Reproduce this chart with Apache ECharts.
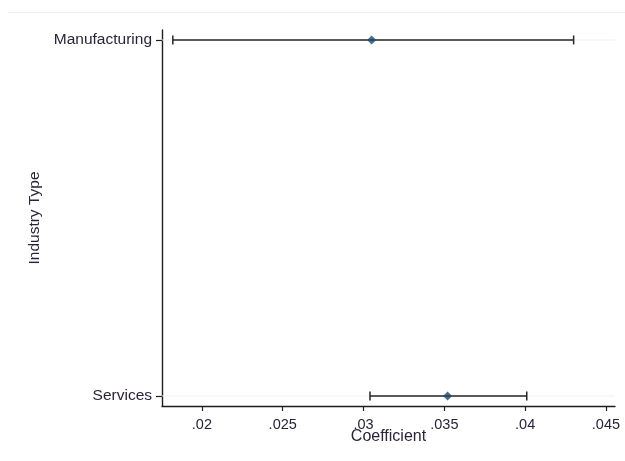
<!DOCTYPE html>
<html><head><meta charset="utf-8">
<script src="https://cdn.jsdelivr.net/npm/echarts@6/dist/echarts.min.js"></script>
<style>html,body{margin:0;padding:0;background:#fff}#c{width:625px;height:461px}</style>
</head><body><div id="c"></div>
<script>
var categories = ['Services', 'Manufacturing'];
var coef = [0.0352, 0.0305];
var ciLow = [0.0304, 0.0182];
var ciHigh = [0.0401, 0.0430];
var xTicks = [0.02, 0.025, 0.03, 0.035, 0.04, 0.045];
var xTitle = 'Coefficient';

var chart = echarts.init(document.getElementById('c'));
var font = 'Liberation Sans, Arial, sans-serif';
var txt = '#2a2438';
var ciData = categories.map(function (c, i) { return [ciLow[i], ciHigh[i], i]; });
var ptData = categories.map(function (c, i) { return [coef[i], i]; });

chart.setOption({
  animation: false,
  graphic: [
    {type: 'line', shape: {x1: 8, y1: 12.5, x2: 625, y2: 12.5}, style: {stroke: '#e6eff1', lineWidth: 1}, silent: true},
    {type: 'text', x: 388.5, y: 437, silent: true, z: 10,
      style: {text: xTitle, fill: txt, font: '16px ' + font, align: 'center', verticalAlign: 'middle'}}
  ],
  grid: {left: 162, right: 10, top: 30, bottom: 55},
  xAxis: {
    type: 'value', min: 0.01753, max: 0.04556,
    axisLine: {show: true, onZero: false, lineStyle: {color: '#1e1e1e', width: 1.4}},
    axisTick: {show: true, length: 5, lineStyle: {color: '#1e1e1e', width: 1.2}, customValues: xTicks},
    axisLabel: {color: txt, fontFamily: font, fontSize: 14.5, margin: 11, customValues: xTicks,
      formatter: function (v) { return String(+v.toFixed(3)).replace(/^0/, ''); }},
    splitLine: {show: false}
  },
  yAxis: {
    type: 'value', min: -0.028, max: 1.028,
    name: 'Industry Type', nameLocation: 'middle', nameGap: 119,
    nameTextStyle: {color: txt, fontFamily: font, fontSize: 15.5},
    axisLine: {show: true, onZero: false, lineStyle: {color: '#1e1e1e', width: 1.4}},
    axisTick: {show: true, length: 6, lineStyle: {color: '#1e1e1e', width: 1.2}, customValues: [0, 1]},
    axisLabel: {color: txt, fontFamily: font, fontSize: 15.5, margin: 10, customValues: [0, 1],
      formatter: function (v) { return categories[Math.round(v)]; }},
    splitLine: {show: false}
  },
  series: [
    {
      type: 'custom', silent: true,
      data: ciData,
      renderItem: function (params, api) {
        var y = api.value(2);
        var a = api.coord([api.value(0), y]);
        var b = api.coord([api.value(1), y]);
        var left = api.coord([0.01753, y]);
        var right = api.coord([0.04556, y]);
        var st = {stroke: '#262626', lineWidth: 1.5};
        return {type: 'group', children: [
          {type: 'line', shape: {x1: left[0], y1: a[1], x2: right[0], y2: a[1]}, style: {stroke: '#e8f1f1', lineWidth: 1}, z2: 0},
          {type: 'line', shape: {x1: a[0], y1: a[1], x2: b[0], y2: b[1]}, style: st, z2: 1},
          {type: 'line', shape: {x1: a[0], y1: a[1] - 4.5, x2: a[0], y2: a[1] + 4.5}, style: st, z2: 1},
          {type: 'line', shape: {x1: b[0], y1: b[1] - 4.5, x2: b[0], y2: b[1] + 4.5}, style: st, z2: 1}
        ]};
      },
      z: 2
    },
    {
      type: 'scatter', silent: true, data: ptData, symbol: 'diamond', symbolSize: 9,
      itemStyle: {color: '#1a476f'}, z: 3
    }
  ]
});
</script></body></html>
